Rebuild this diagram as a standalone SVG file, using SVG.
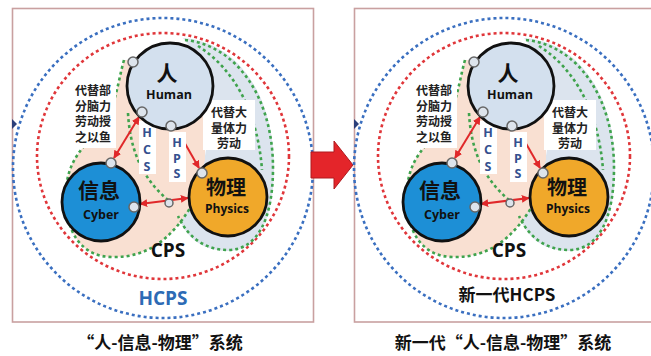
<svg xmlns="http://www.w3.org/2000/svg" width="651" height="356" viewBox="0 0 651 356">
<style>
.panel{fill:#fff;stroke:#c9a0a0;stroke-width:1.6}
.bl{fill:none;stroke:#3a6fc0;stroke-width:2.6;stroke-dasharray:3 3}
.rd{fill:none;stroke:#e0363a;stroke-width:2.6;stroke-dasharray:3 3}
.gr{fill:none;stroke:#3fa34d;stroke-width:2.6;stroke-dasharray:3 3}
.fb{fill:#dce4ee}
.fp{fill:#f9e0d2}
.wb{fill:#fff}
.node{stroke:#111;stroke-width:2.8}
.port{fill:#dde4ec;stroke:#666;stroke-width:1.5}
.arr{stroke:#e0282a;stroke-width:2;fill:none}
.cjk{font-family:"Noto Sans CJK SC","Noto Sans",sans-serif;font-weight:bold;text-anchor:middle}
.lat{font-family:"Open Sans","Noto Sans",sans-serif;font-weight:bold;text-anchor:middle}
.lab{font-size:12px;fill:#222}
.vl{font-family:"Open Sans","Noto Sans",sans-serif;font-weight:bold;font-size:12.5px;fill:#34508f;text-anchor:middle}
</style>
<defs>
<marker id="ah" viewBox="0 0 10 10" refX="9" refY="5" markerWidth="4" markerHeight="4" orient="auto-start-reverse">
<path d="M0,0 L10,5 L0,10 z" fill="#e0282a"/>
</marker>
</defs>

<!-- LEFT PANEL -->
<g id="panel-left">
<rect class="panel" x="12.5" y="8.5" width="301" height="313.5"/>
<path d="M12,119 L17,124 L12,129 Z" fill="#2b3f7a"/>
<circle class="bl" cx="163" cy="168" r="150"/>
<ellipse class="rd" cx="163" cy="156" rx="126" ry="123"/>
<path class="fb" d="M183,38 C238,42 274,95 274,168 C274,218 258,251 228,251 C205,251 188,240 180,220 L200,185 L206,150 L205,100 L200,60 Z"/>
<path class="fp" d="M124,60 C117,85 116,108 100,128 C82,148 67,162 66,192 C64,232 82,257 112,257 C148,258 172,238 192,205 L205,160 L205,110 L190,100 L160,60 Z"/>
</g>
<g id="connectors-left">
<path class="gr" d="M185,40 C236,45 273,97 273,168 C273,218 258,250 228,250 C206,250 188,238 178,216"/>
<path class="gr" d="M198,46 C236,70 258,115 262,170"/>
<path class="gr" d="M124,60 C117,85 116,108 100,128 C82,148 67,162 66,192 C64,232 82,257 112,257 C148,258 172,238 192,205"/>
<path class="gr" d="M128,113 C130,150 142,178 168,200"/>
<line class="arr" x1="114" y1="158" x2="139" y2="117" marker-start="url(#ah)" marker-end="url(#ah)"/>
<line class="arr" x1="183" y1="140" x2="199" y2="168" stroke-width="3" marker-end="url(#ah)"/>
<line class="arr" x1="140" y1="204" x2="188" y2="198" marker-start="url(#ah)" marker-end="url(#ah)"/>
<circle class="port" cx="169" cy="203" r="4"/>
</g>
<g id="label-left-1">
<rect class="wb" x="69" y="80" width="47" height="68"/>
<text class="cjk lab" x="93" y="95"><tspan x="93">代替部</tspan><tspan x="93" dy="15.7">分脑力</tspan><tspan x="93" dy="15.7">劳动授</tspan><tspan x="93" dy="15.7">之以鱼</tspan></text>
</g>
<g id="label-left-2">
<rect class="wb" x="203" y="100" width="52" height="50"/>
<text class="cjk lab" x="229" y="117"><tspan x="229">代替大</tspan><tspan x="229" dy="15.5">量体力</tspan><tspan x="229" dy="15.5">劳动</tspan></text>
</g>
<g id="hcs-left">
<rect class="wb" x="139" y="121" width="17" height="53"/>
<text class="vl" x="147" y="137"><tspan x="147">H</tspan><tspan x="147" dy="17">C</tspan><tspan x="147" dy="17">S</tspan></text>
</g>
<g id="hps-left">
<rect class="wb" x="169" y="132" width="17" height="50"/>
<text class="vl" x="177" y="147"><tspan x="177">H</tspan><tspan x="177" dy="15.5">P</tspan><tspan x="177" dy="15.5">S</tspan></text>
</g>
<g id="human-left">
<circle class="node" cx="170" cy="86" r="43" fill="#d3e0ee"/>
<text class="cjk" x="167" y="81" font-size="21" fill="#111">人</text>
<text class="lat" x="169" y="99" font-size="12.5" fill="#111">Human</text>
<circle class="port" cx="133" cy="62" r="5"/>
<circle class="port" cx="142" cy="112" r="5"/>
<circle class="port" cx="171" cy="126" r="5"/>
</g>
<g id="cyber-left">
<circle class="node" cx="101" cy="202" r="39" fill="#1d8fd6"/>
<text class="cjk" x="99" y="198" font-size="21" fill="#111">信息</text>
<text class="lat" x="101" y="219" font-size="12.5" fill="#111">Cyber</text>
<circle class="port" cx="111" cy="163" r="5"/>
<circle class="port" cx="134" cy="207" r="5"/>
</g>
<g id="physics-left">
<circle class="node" cx="228" cy="197" r="39" fill="#f0a82a"/>
<text class="cjk" x="226" y="195" font-size="20" fill="#111">物理</text>
<text class="lat" x="227" y="213" font-size="12" fill="#111">Physics</text>
<circle class="port" cx="202" cy="173" r="5"/>
</g>
<g id="cps-left"><text class="lat" x="168" y="257" font-size="19" fill="#111">CPS</text></g>
<g id="hcps-left"><text class="lat" x="163" y="305" font-size="19" fill="#2d6bb5">HCPS</text></g>
<g id="caption-left"><text class="cjk" x="160" y="349" font-size="17" fill="#111">“人-信息-物理”系统</text></g>

<!-- ARROW -->
<g id="big-arrow">
<path d="M311,152 L334,152 L334,141 L353,165 L334,189 L334,178 L311,178 Z" fill="#e4252a" stroke="#b01a1e" stroke-width="1"/>
</g>

<!-- RIGHT PANEL -->
<g id="panel-right">
<rect class="panel" x="354.5" y="8.5" width="300" height="313.5"/>
<path d="M354,119 L359,124 L354,129 Z" fill="#2b3f7a"/>
<g transform="translate(341,0)">
<circle class="bl" cx="163" cy="168" r="150"/>
<ellipse class="rd" cx="163" cy="156" rx="126" ry="123"/>
<path class="fb" d="M183,38 C238,42 274,95 274,168 C274,218 258,251 228,251 C205,251 188,240 180,220 L200,185 L206,150 L205,100 L200,60 Z"/>
<path class="fp" d="M124,60 C117,85 116,108 100,128 C82,148 67,162 66,192 C64,232 82,257 112,257 C148,258 172,238 192,205 L205,160 L205,110 L190,100 L160,60 Z"/>
</g>
</g>
<g id="connectors-right" transform="translate(341,0)">
<path class="gr" d="M185,40 C236,45 273,97 273,168 C273,218 258,250 228,250 C206,250 188,238 178,216"/>
<path class="gr" d="M198,46 C236,70 258,115 262,170"/>
<path class="gr" d="M124,60 C117,85 116,108 100,128 C82,148 67,162 66,192 C64,232 82,257 112,257 C148,258 172,238 192,205"/>
<path class="gr" d="M128,113 C130,150 142,178 168,200"/>
<line class="arr" x1="114" y1="158" x2="139" y2="117" marker-start="url(#ah)" marker-end="url(#ah)"/>
<line class="arr" x1="183" y1="140" x2="199" y2="168" stroke-width="3" marker-end="url(#ah)"/>
<line class="arr" x1="140" y1="204" x2="188" y2="198" marker-start="url(#ah)" marker-end="url(#ah)"/>
<circle class="port" cx="169" cy="203" r="4"/>
</g>
<g id="label-right-1" transform="translate(341,0)">
<rect class="wb" x="69" y="80" width="47" height="68"/>
<text class="cjk lab" x="93" y="95"><tspan x="93">代替部</tspan><tspan x="93" dy="15.7">分脑力</tspan><tspan x="93" dy="15.7">劳动授</tspan><tspan x="93" dy="15.7">之以鱼</tspan></text>
</g>
<g id="label-right-2" transform="translate(341,0)">
<rect class="wb" x="203" y="100" width="52" height="50"/>
<text class="cjk lab" x="229" y="117"><tspan x="229">代替大</tspan><tspan x="229" dy="15.5">量体力</tspan><tspan x="229" dy="15.5">劳动</tspan></text>
</g>
<g id="hcs-right" transform="translate(341,0)">
<rect class="wb" x="139" y="121" width="17" height="53"/>
<text class="vl" x="147" y="137"><tspan x="147">H</tspan><tspan x="147" dy="17">C</tspan><tspan x="147" dy="17">S</tspan></text>
</g>
<g id="hps-right" transform="translate(341,0)">
<rect class="wb" x="169" y="132" width="17" height="50"/>
<text class="vl" x="177" y="147"><tspan x="177">H</tspan><tspan x="177" dy="15.5">P</tspan><tspan x="177" dy="15.5">S</tspan></text>
</g>
<g id="human-right" transform="translate(341,0)">
<circle class="node" cx="170" cy="86" r="43" fill="#d3e0ee"/>
<text class="cjk" x="167" y="81" font-size="21" fill="#111">人</text>
<text class="lat" x="169" y="99" font-size="12.5" fill="#111">Human</text>
<circle class="port" cx="133" cy="62" r="5"/>
<circle class="port" cx="142" cy="112" r="5"/>
<circle class="port" cx="171" cy="126" r="5"/>
</g>
<g id="cyber-right" transform="translate(341,0)">
<circle class="node" cx="101" cy="202" r="39" fill="#1d8fd6"/>
<text class="cjk" x="99" y="198" font-size="21" fill="#111">信息</text>
<text class="lat" x="101" y="219" font-size="12.5" fill="#111">Cyber</text>
<circle class="port" cx="111" cy="163" r="5"/>
<circle class="port" cx="134" cy="207" r="5"/>
</g>
<g id="physics-right" transform="translate(341,0)">
<circle class="node" cx="228" cy="197" r="39" fill="#f0a82a"/>
<text class="cjk" x="226" y="195" font-size="20" fill="#111">物理</text>
<text class="lat" x="227" y="213" font-size="12" fill="#111">Physics</text>
<circle class="port" cx="202" cy="173" r="5"/>
</g>
<g id="cps-right"><text class="lat" x="509" y="257" font-size="19" fill="#111">CPS</text></g>
<g id="hcps-right"><text class="cjk" x="507" y="301" font-size="17" fill="#111">新一代HCPS</text></g>
<g id="caption-right"><text class="cjk" x="503" y="349" font-size="17" fill="#111">新一代“人-信息-物理”系统</text></g>
</svg>
